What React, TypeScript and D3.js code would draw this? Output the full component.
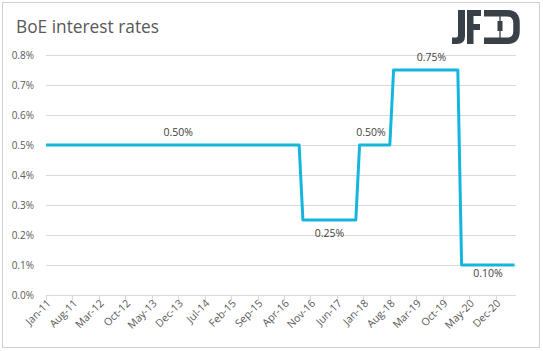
import React, { useRef, useEffect } from "react";
import * as d3 from "d3";

// Monthly Bank Rate, Jan-11 .. May-21 (one row per year)
const rates: number[] = [
  0.5, 0.5, 0.5, 0.5, 0.5, 0.5, 0.5, 0.5, 0.5, 0.5, 0.5, 0.5, // 2011
  0.5, 0.5, 0.5, 0.5, 0.5, 0.5, 0.5, 0.5, 0.5, 0.5, 0.5, 0.5, // 2012
  0.5, 0.5, 0.5, 0.5, 0.5, 0.5, 0.5, 0.5, 0.5, 0.5, 0.5, 0.5, // 2013
  0.5, 0.5, 0.5, 0.5, 0.5, 0.5, 0.5, 0.5, 0.5, 0.5, 0.5, 0.5, // 2014
  0.5, 0.5, 0.5, 0.5, 0.5, 0.5, 0.5, 0.5, 0.5, 0.5, 0.5, 0.5, // 2015
  0.5, 0.5, 0.5, 0.5, 0.5, 0.5, 0.5, 0.5, 0.25, 0.25, 0.25, 0.25, // 2016
  0.25, 0.25, 0.25, 0.25, 0.25, 0.25, 0.25, 0.25, 0.25, 0.25, 0.25, 0.5, // 2017
  0.5, 0.5, 0.5, 0.5, 0.5, 0.5, 0.5, 0.5, 0.75, 0.75, 0.75, 0.75, // 2018
  0.75, 0.75, 0.75, 0.75, 0.75, 0.75, 0.75, 0.75, 0.75, 0.75, 0.75, 0.75, // 2019
  0.75, 0.75, 0.1, 0.1, 0.1, 0.1, 0.1, 0.1, 0.1, 0.1, 0.1, 0.1, // 2020
  0.1, 0.1, 0.1, 0.1, 0.1, // 2021
];

const fmtMonth = d3.timeFormat("%b-%y");
const months: string[] = d3
  .timeMonth.range(new Date(2011, 0, 1), new Date(2011, rates.length, 1))
  .map((d) => fmtMonth(d));

const tickLabels = [
  "Jan-11", "Aug-11", "Mar-12", "Oct-12", "May-13", "Dec-13", "Jul-14", "Feb-15", "Sep-15",
  "Apr-16", "Nov-16", "Jun-17", "Jan-18", "Aug-18", "Mar-19", "Oct-19", "May-20", "Dec-20",
];

const yTicks = [0, 0.1, 0.2, 0.3, 0.4, 0.5, 0.6, 0.7, 0.8];

// data labels: month they sit on, and side of the line
const dataLabels = [
  { month: "Dec-13", side: "above" },
  { month: "Apr-17", side: "below" },
  { month: "Mar-18", side: "above" },
  { month: "Jul-19", side: "above" },
  { month: "Oct-20", side: "below" },
];

const App: React.FC = () => {
  const ref = useRef<SVGSVGElement | null>(null);
  const width = 543;
  const height = 351;
  const plot = { left: 46, right: 516, top: 55, bottom: 295 };

  useEffect(() => {
    if (!ref.current) return;
    const svg = d3.select(ref.current);
    svg.selectAll("*").remove();

    const x = d3.scaleLinear().domain([0, rates.length - 1]).range([plot.left, 514.5]);
    const y = d3.scaleLinear().domain([0, 0.8]).range([plot.bottom, plot.top]);

    // outer border
    svg.append("rect")
      .attr("x", 2.5).attr("y", 2.5)
      .attr("width", 537).attr("height", 345)
      .attr("fill", "#fff")
      .attr("stroke", "#d0d0d0");

    // title
    svg.append("text")
      .attr("x", 16).attr("y", 33)
      .attr("font-family", "'Open Sans', sans-serif")
      .attr("font-size", 18.5)
      .attr("fill", "#595959")
      .attr("textLength", 143)
      .attr("lengthAdjust", "spacingAndGlyphs")
      .text("BoE interest rates");

    // logo
    const logo = svg.append("g").attr("fill", "#3a4047").attr("stroke", "#3a4047");
    logo.append("path")
      .attr("stroke", "none")
      .attr("d", "M458,10 H465 V36 Q465,44 457,44 H452 V37.5 H456 Q458,37.5 458,35.5 Z");
    logo.append("path")
      .attr("stroke", "none")
      .attr("d", "M467,10 H481 V16 H473.5 V24 H480 V30 H473.5 V44 H467 Z");
    logo.append("path")
      .attr("fill", "none")
      .attr("stroke-width", 6.5)
      .attr("d", "M484,13.2 H507 Q516.5,13.2 516.5,23 V31 Q516.5,40.8 507,40.8 H484");
    logo.append("line")
      .attr("x1", 500).attr("x2", 500).attr("y1", 10).attr("y2", 44)
      .attr("stroke-width", 1.3);
    logo.append("rect")
      .attr("stroke", "none")
      .attr("x", 497.5).attr("y", 21).attr("width", 5).attr("height", 10);

    // gridlines
    svg.append("g")
      .selectAll("line")
      .data(yTicks.slice(1))
      .join("line")
      .attr("x1", plot.left).attr("x2", plot.right)
      .attr("y1", (d) => Math.round(y(d)) + 0.5)
      .attr("y2", (d) => Math.round(y(d)) + 0.5)
      .attr("stroke", "#d9d9d9");

    // y labels
    svg.append("g")
      .selectAll("text")
      .data(yTicks)
      .join("text")
      .attr("x", 34)
      .attr("y", (d) => y(d))
      .attr("dy", "0.35em")
      .attr("text-anchor", "end")
      .attr("font-family", "'Open Sans', sans-serif")
      .attr("font-size", 10)
      .attr("fill", "#595959")
      .text((d) => d3.format(".1f")(d) + "%");

    // x axis line + ticks
    const axisY = Math.round(y(0)) + 0.5;
    svg.append("line")
      .attr("x1", plot.left).attr("x2", plot.right)
      .attr("y1", axisY).attr("y2", axisY)
      .attr("stroke", "#d9d9d9");

    const tickIdx = tickLabels.map((t) => months.indexOf(t));
    svg.append("g")
      .selectAll("line")
      .data(tickIdx)
      .join("line")
      .attr("x1", (d) => Math.round(x(d)) + 0.5)
      .attr("x2", (d) => Math.round(x(d)) + 0.5)
      .attr("y1", axisY).attr("y2", axisY + 5)
      .attr("stroke", "#d9d9d9");

    svg.append("g")
      .selectAll("text")
      .data(tickIdx)
      .join("text")
      .attr("transform", (d) => `translate(${x(d) + 3},${axisY + 6}) rotate(-45)`)
      .attr("text-anchor", "end")
      .attr("dy", "0.35em")
      .attr("font-family", "'Open Sans', sans-serif")
      .attr("font-size", 10.5)
      .attr("fill", "#595959")
      .text((d) => months[d]);

    // line
    const line = d3.line<number>()
      .x((_, i) => x(i))
      .y((d) => y(d));
    svg.append("path")
      .datum(rates)
      .attr("d", line)
      .attr("fill", "none")
      .attr("stroke", "#14b6de")
      .attr("stroke-width", 3)
      .attr("stroke-linejoin", "round");

    // data labels
    svg.append("g")
      .selectAll("text")
      .data(dataLabels)
      .join("text")
      .attr("x", (d) => x(months.indexOf(d.month)))
      .attr("y", (d) => {
        const v = rates[months.indexOf(d.month)];
        if (d.side === "above") return y(v) - 9;
        return Math.min(y(v) + 17, 277);
      })
      .attr("text-anchor", "middle")
      .attr("font-family", "'Open Sans', sans-serif")
      .attr("font-size", 10.5)
      .attr("fill", "#404040")
      .text((d) => d3.format(".2f")(rates[months.indexOf(d.month)]) + "%");
  }, []);

  return (
    <svg
      ref={ref}
      width={width}
      height={height}
      style={{ display: "block", position: "absolute", left: 0, top: 0 }}
    />
  );
};

export default App;
